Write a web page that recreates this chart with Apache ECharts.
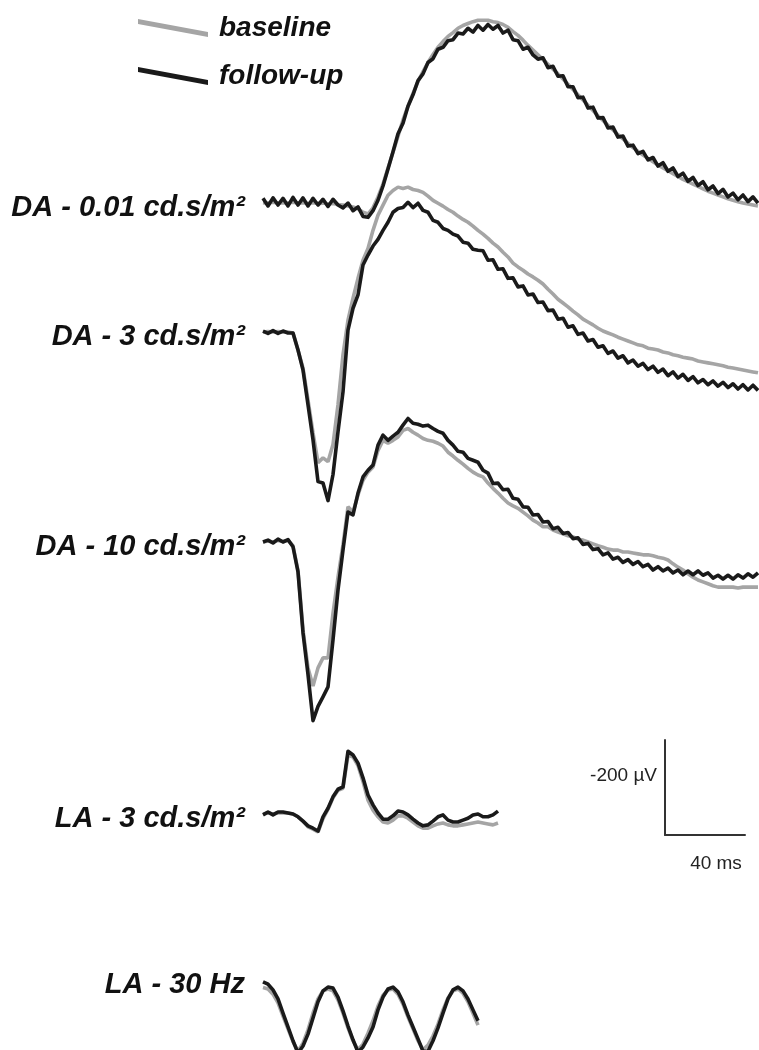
<!DOCTYPE html>
<html>
<head>
<meta charset="utf-8">
<script src="https://cdn.jsdelivr.net/npm/echarts@6/dist/echarts.min.js"></script>
<style>
  html, body { margin: 0; padding: 0; background: #fff; }
  #chart { width: 759px; height: 1050px; }
</style>
</head>
<body>
<div id="chart"></div>
<script>
// sampling interval of the read-off traces (ms)
const SAMPLE_MS = 2.5

// ERG traces, µV relative to pre-flash baseline
const da001Base = [5, 4, 6, 4, 5, 4, 6, 4, 5, 3, 5, 3, 4, 2, 3, 1, 0, -2, -4, -8,
  -15, -19, -6, 17, 44, 78, 111, 145, 179, 208, 235, 260, 281, 300, 317, 332, 344, 355, 363, 372,
  378, 382, 386, 389, 389, 389, 386, 384, 380, 374, 365, 357, 347, 336,
  326, 316, 306, 296, 286, 276, 265, 254, 243, 232, 221, 210, 199, 188, 178, 168, 158, 148, 139, 130,
  121, 113, 105, 98, 91, 84, 78, 72, 66, 60, 54, 49, 44, 39, 34, 29, 25, 21, 17, 13, 10, 7, 4, 2, 0, -2]
const da001Follow = [14, -2, 15, 0, 14, -2, 16, 0, 15, -2, 14, 0, 12, -3, 12, 0,
  -6, 4, -12, -4, -24, -26, -12,
  10, 40, 76, 112, 150, 172, 208, 232, 262, 276, 300, 308, 328, 332, 346, 348, 362, 360, 372, 364,
  378, 368, 380, 370, 378, 362, 368, 348, 346, 328, 332, 316,
  307, 310, 289, 292, 271, 272, 249, 249, 226, 227, 204, 206, 183, 184, 162, 164, 143, 145, 124, 126,
  108, 113, 95, 100, 82, 89, 71, 78, 60, 67, 50, 58, 41, 49, 32, 40, 24, 33, 17, 25, 11, 21, 7, 17, 4]

const da3Base = [0, 1, 0, 1, 0, 0, -2,
  -38, -76, -143, -212, -275, -265, -273, -237, -153, -48, 25, 71, 113, 151, 176, 214, 246, 267, 288,
  298, 305, 302, 305, 300, 298, 294, 286, 277, 271, 265, 258, 252, 244, 237, 231, 223, 214, 206, 197,
  187, 179, 168, 158, 145, 137, 130, 122, 116, 109, 101, 90, 80, 69, 61, 53, 44, 36, 27, 21, 15, 8, 2,
  -2, -6, -11, -15, -19, -23, -27, -29, -34, -36, -38, -42, -44, -48, -50, -53, -55, -57, -61, -63, -65,
  -67, -69, -71, -74, -76, -78, -80, -82, -84, -86]
const da3Follow = [2, -3, 3, -3, 2, -2, -2,
  -38, -80, -153, -227, -315, -318, -355, -300, -210, -126,
  4, 50, 78, 141, 162, 181, 195, 214, 231, 252, 260, 262, 273, 262, 271, 256, 252, 235, 231, 218, 214,
  206, 202, 189, 187, 174, 172,
  171, 151, 152, 132, 133, 113, 114, 95, 97, 78, 80, 62, 63, 45, 46, 27, 29, 10, 13, -5,
  -2, -19, -16, -32, -29, -45, -40, -55, -50, -65, -59, -72, -66, -79, -72, -85, -78, -92, -84, -97,
  -89, -102, -94, -107, -100, -111, -103, -114, -106, -117, -109, -120, -111, -122, -112, -123]

const da10Base = [0, 2, 0, 3, 1, 3,
  -8, -60, -185, -265, -303, -265, -244, -244, -150, -74, -6, 74, 63, 99, 130, 147, 158, 193, 214, 208,
  214, 221, 235, 239, 231, 225, 218, 214, 212, 208, 202, 189, 181, 172, 164, 155, 147, 141, 137, 124,
  113, 103, 92, 82, 76, 71, 63, 55, 46, 40, 32, 32, 25, 21, 17, 13, 11, 6, 4, 0,
  -4, -8, -11, -15, -17, -17, -21, -21, -23, -25, -27, -27, -29, -32, -34, -38, -46, -53, -59, -67,
  -74, -80, -84, -88, -92, -95, -95, -95, -95, -97, -95, -95, -95, -95]
const da10Follow = [0, 4, -2, 6, 0, 5,
  -10, -63, -191, -279, -376, -346, -326, -305, -206, -101, -17, 63, 57, 103, 137, 151, 162, 204, 225, 214,
  223, 231, 246, 260, 250, 248, 244, 246, 239, 233, 229, 214, 204, 191, 189, 176, 172,
  168, 151, 145, 123, 124, 110, 111, 92, 90, 74, 73, 57, 58, 42, 43, 28, 31, 18, 20, 7,
  9, -5, -3, -16, -14, -27, -23, -36, -32, -43, -37, -47, -41, -52, -47, -59, -52, -61, -55, -65,
  -59, -69, -61, -69, -61, -70, -65, -76, -70, -78, -70, -78, -69, -76, -67, -74, -65]

const la3Base = [-2, 0, -2, 0, 0, 0, -2, -8, -17, -29, -34, -40, -12, 8, 32, 48, 52, 122, 118, 100,
  66, 27, 6, -8, -19, -21, -15, -6, -6, -11, -19, -27, -32, -32, -27, -23, -21, -25, -27, -27,
  -25, -23, -21, -19, -21, -23, -25, -21]
const la3Follow = [-4, 2, -4, 2, 2, 0, -2, -8, -17, -27, -32, -38, -8, 10, 34, 50, 55, 130, 122, 105,
  74, 38, 17, 0, -13, -13, -6, 4, 2, -4, -13, -21, -27, -25, -17, -8, -4, -15, -19, -19,
  -15, -11, -4, -2, -8, -8, -4, 4]

const la30Base = [62, 59, 48, 30, 2, -25, -52, -72, -55, -27, 8, 38, 55, 59, 55, 36, 8, -23, -50, -69,
  -57, -34, -8, 23, 46, 57, 59, 48, 27, 0, -25, -50, -69, -59, -40, -15, 15, 40, 55, 59, 50, 32, 8, -17]
const la30Follow = [74, 69, 57, 38, 8, -21, -50, -76, -61, -36, -2, 32, 55, 63, 61, 42, 13, -19, -48, -74,
  -63, -44, -21, 15, 42, 59, 63, 53, 32, 4, -21, -46, -72, -72, -50, -23, 8, 38, 57, 63, 55, 38, 15, -8]

const traceLabels = ['DA - 0.01 cd.s/m²', 'DA - 3 cd.s/m²', 'DA - 10 cd.s/m²', 'LA - 3 cd.s/m²', 'LA - 30 Hz']
const baselineData = [da001Base, da3Base, da10Base, la3Base, la30Base]
const followData = [da001Follow, da3Follow, da10Follow, la3Follow, la30Follow]

// scale bar
const SCALE_MS = 40
const SCALE_UV = 200

// layout
const W = 759
const H = 1050
const PLOT_LEFT = 263
const PX_PER_MS = 2
const PX_PER_UV = 0.475
const baselinePx = [205, 332, 542, 813, 1017]
const labelPx = [208, 337, 547, 819, 985]
const GRAY = '#a5a5a5'
const BLACK = '#1a1a1a'
const LABEL_FONT = 'italic bold 29px "Liberation Sans", Arial, sans-serif'

const chart = echarts.init(document.getElementById('chart'))

const toPairs = vals => vals.map((v, i) => [i * SAMPLE_MS, v])

const yAxes = baselinePx.map(b => ({
  type: 'value',
  gridIndex: 0,
  min: -(H - b) / PX_PER_UV,
  max: b / PX_PER_UV,
  show: false
}))

const series = []
baselineData.forEach((vals, i) => {
  series.push({
    name: 'baseline',
    type: 'line',
    xAxisIndex: 0,
    yAxisIndex: i,
    showSymbol: false,
    silent: true,
    lineStyle: { color: GRAY, width: 3.6 },
    itemStyle: { color: GRAY },
    data: toPairs(vals)
  })
})
followData.forEach((vals, i) => {
  series.push({
    name: 'follow-up',
    type: 'line',
    xAxisIndex: 0,
    yAxisIndex: i,
    showSymbol: false,
    silent: true,
    lineStyle: { color: BLACK, width: 3.6, join: 'round' },
    itemStyle: { color: BLACK },
    data: toPairs(vals)
  })
})

chart.setOption({
  animation: false,
  backgroundColor: '#fff',
  legend: {
    orient: 'vertical',
    left: 138,
    top: 13,
    padding: 0,
    itemWidth: 70,
    itemHeight: 18,
    itemGap: 18,
    icon: 'path://M0,0 L70,13 L70,18 L0,5 Z',
    textStyle: {
      color: '#111',
      fontSize: 28,
      fontWeight: 'bold',
      fontStyle: 'italic',
      fontFamily: 'Liberation Sans',
      lineHeight: 30,
      padding: [0, 0, 0, 6]
    },
    data: ['baseline', 'follow-up']
  },
  grid: [
    { left: PLOT_LEFT, top: 0, width: W - PLOT_LEFT, height: H },
    { left: 665, top: 740, width: SCALE_MS * PX_PER_MS, height: SCALE_UV * PX_PER_UV }
  ],
  xAxis: [
    { type: 'value', gridIndex: 0, min: 0, max: (W - PLOT_LEFT) / PX_PER_MS, show: false },
    {
      type: 'value',
      gridIndex: 1,
      min: 0,
      max: SCALE_MS,
      name: SCALE_MS + ' ms',
      nameLocation: 'middle',
      nameGap: 19,
      nameTextStyle: { color: '#222', fontSize: 19, fontFamily: 'Liberation Sans', padding: [0, 0, 0, 22] },
      axisLine: { show: true, lineStyle: { color: '#333', width: 2 } },
      axisTick: { show: false },
      axisLabel: { show: false },
      splitLine: { show: false }
    }
  ],
  yAxis: yAxes.concat([
    {
      type: 'value',
      gridIndex: 1,
      min: 0,
      max: SCALE_UV,
      name: '-' + SCALE_UV + ' µV',
      nameLocation: 'middle',
      nameRotate: 0,
      nameGap: 8,
      nameTextStyle: { color: '#222', fontSize: 19, fontFamily: 'Liberation Sans', align: 'right', verticalAlign: 'bottom', padding: [0, 0, 2, 0] },
      axisLine: { show: true, lineStyle: { color: '#333', width: 2 } },
      axisTick: { show: false },
      axisLabel: { show: false },
      splitLine: { show: false }
    }
  ]),
  graphic: traceLabels.map((t, i) => ({
    type: 'text',
    x: 245,
    y: labelPx[i],
    silent: true,
    style: {
      text: t,
      font: LABEL_FONT,
      fill: '#111',
      align: 'right',
      verticalAlign: 'middle'
    }
  })),
  series
})
</script>
</body>
</html>
